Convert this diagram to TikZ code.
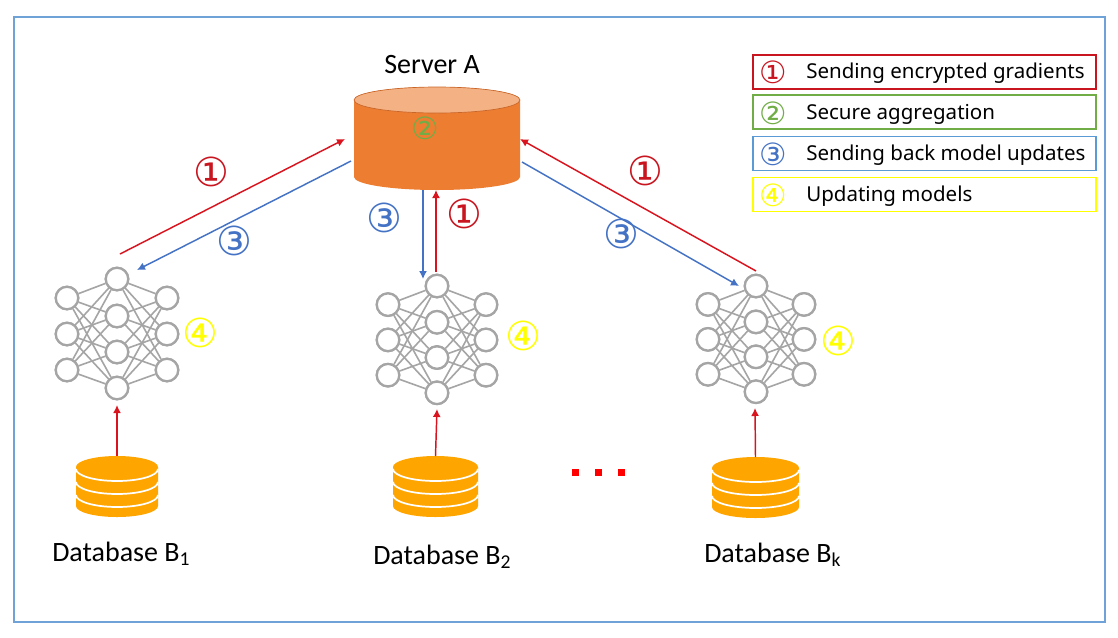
\documentclass[tikz,border=0pt]{standalone}
\usepackage{fontspec}
\setmainfont{Carlito}
\newfontfamily\legfont{Noto Sans}
\newfontfamily\circfont{DejaVu Sans}
\usetikzlibrary{arrows.meta}
\definecolor{fblue}{HTML}{6FA3D8}
\definecolor{cred}{HTML}{C8151F}
\definecolor{cgreen}{HTML}{70AD47}
\definecolor{cblue}{HTML}{4472C4}
\definecolor{lblue}{HTML}{5B9BD5}
\definecolor{cyell}{HTML}{FFFF00}
\definecolor{srvbody}{HTML}{ED7D31}
\definecolor{srvtop}{HTML}{F4B183}
\definecolor{srvedge}{HTML}{C8662A}
\definecolor{dbfill}{HTML}{FFA500}
\definecolor{netgray}{HTML}{A5A5A5}
\definecolor{arrred}{HTML}{D9141F}
\tikzset{
  x=0.75pt,y=-0.75pt,
  neuron/.style={circle,draw=netgray,line width=1.7pt,fill=white,minimum size=22.5*0.75pt,inner sep=0pt},
  syn/.style={draw=netgray,line width=1.2pt},
  redarrow/.style={draw=arrred,line width=1.1pt,-{Latex[length=6pt,width=6pt]}},
  bluearrow/.style={draw=cblue,line width=1.1pt,-{Latex[length=6pt,width=6pt]}},
  feedarrow/.style={draw=arrred,line width=1.6pt,-{Latex[length=6pt,width=6pt]}},
  legbox/.style={draw,line width=1pt,minimum width=343*0.75pt,minimum height=34*0.75pt,inner sep=0pt},
  legtext/.style={anchor=west,font=\legfont\fontsize{15.4pt}{17pt}\selectfont,text=black,inner sep=0pt},
  circnum/.style={font=\circfont\fontsize{30pt}{32pt}\selectfont,inner sep=0pt},
  legnum/.style={font=\circfont\fontsize{23pt}{25pt}\selectfont,inner sep=0pt},
  dblabel/.style={anchor=west,font=\fontsize{21pt}{23pt}\selectfont,inner sep=0pt},
}
% #1 name, #2 x of middle column, #3 y of top neuron, #4 half width, #5 vertical scale
\newcommand{\neuralnet}[5]{%
  \foreach \i/\dy in {1/0,2/37,3/73,4/109}
    \node[neuron] (#1m\i) at (#2,{#3+#5*\dy}) {};
  \foreach \i/\dy in {1/19,2/55,3/91}{
    \node[neuron] (#1l\i) at (#2-#4,{#3+#5*\dy}) {};
    \node[neuron] (#1r\i) at (#2+#4,{#3+#5*\dy}) {};
  }
  \foreach \a in {1,2,3}\foreach \b in {1,2,3,4}{
    \draw[syn] (#1l\a) -- (#1m\b);
    \draw[syn] (#1r\a) -- (#1m\b);
  }
}
% #1 name, #2 centre x, #3 y of top-ellipse centre, #4 half width
\newcommand{\dbstack}[4]{%
  \fill[dbfill] ({#2-#4},#3) -- ({#2-#4},#3+39) arc[x radius=#4,y radius=11,start angle=180,end angle=0]
     -- ({#2+#4},#3) arc[x radius=#4,y radius=11,start angle=0,end angle=-180] -- cycle;
  \foreach \d in {2,15,28}
    \draw[white,line width=1.3pt] ({#2-#4},#3+\d) arc[x radius=#4,y radius=12,start angle=180,end angle=0];
  \coordinate (#1) at (#2,#3-11);
}
\begin{document}
\begin{tikzpicture}
\useasboundingbox (0,0) rectangle (1118,637);
\fill[white] (0,0) rectangle (1118,637);
\draw[fblue,line width=1pt] (14,17) rectangle (1105,622);

% server
\fill[srvbody] (354,100) -- (354,177) arc[x radius=83,y radius=13,start angle=180,end angle=0]
  -- (520,100) arc[x radius=83,y radius=13,start angle=0,end angle=-180] -- cycle;
\draw[srvedge,line width=.5pt,fill=srvtop] (437,100) ellipse[x radius=83,y radius=13];
\node[font=\fontsize{21pt}{23pt}\selectfont,inner sep=0pt] (srvlabel) at (432,65) {Server A};
\node[font=\circfont\fontsize{23pt}{25pt}\selectfont,text=cgreen,inner sep=0pt] (srvnum) at (425,128) {②};

% server anchors
\coordinate (sL1) at (345,139);
\coordinate (sL2) at (351,161);
\coordinate (sM1) at (423,190);
\coordinate (sM2) at (436,190);
\coordinate (sR1) at (520,139);
\coordinate (sR2) at (522,162);

% networks
\neuralnet{a}{117}{279}{50}{1}
\neuralnet{b}{437}{286}{49}{.98}
\neuralnet{c}{756}{286}{48}{.97}
\foreach \n in {a,b,c}{
  \foreach \i in {1,2,3,4} \node[neuron] at (\n m\i) {};
  \foreach \i in {1,2,3} {\node[neuron] at (\n l\i) {}; \node[neuron] at (\n r\i) {};}
}

% databases
\dbstack{da}{117}{467}{41}
\dbstack{db}{435.5}{467}{42.5}
\dbstack{dc}{755.5}{468}{43.5}

% arrows network/server
\coordinate (aR) at (120,254);
\coordinate (aB) at (137,270);
\coordinate (bB) at (423,279);
\coordinate (bR) at (436,272);
\coordinate (cR) at (756,271);
\coordinate (cB) at (739,286);
\draw[redarrow] (aR) -- (sL1);
\draw[bluearrow] (sL2) -- (aB);
\draw[bluearrow] (sM1) -- (bB);
\draw[redarrow] (bR) -- (sM2);
\draw[redarrow] (cR) -- (sR1);
\draw[bluearrow] (sR2) -- (cB);

% database arrows
\coordinate (aI) at (117,405);
\coordinate (bI) at (437,409);
\coordinate (cI) at (755,408);
\draw[feedarrow] (da) -- (aI);
\draw[redarrow] (db) -- (bI);
\draw[redarrow] (dc) -- (cI);

% labels on arrows
\node[circnum,text=cred] (n1a) at (211,172) {①};
\node[circnum,text=cblue] (n3a) at (234,241) {③};
\node[circnum,text=cblue] (n3b) at (384,218) {③};
\node[circnum,text=cred] (n1b) at (464,214) {①};
\node[circnum,text=cred] (n1c) at (645,171) {①};
\node[circnum,text=cblue] (n3c) at (621,234) {③};
\node[circnum,text=cyell] (n4a) at (200,333) {④};
\node[circnum,text=cyell] (n4b) at (523,336) {④};
\node[circnum,text=cyell] (n4c) at (838,341) {④};

% database labels
\node[dblabel] (la) at (52,554) {Database B\textsubscript{1}};
\node[dblabel] (lb) at (373,557) {Database B\textsubscript{2}};
\node[dblabel] (lc) at (704,555) {Database B\textsubscript{k}};

% dots
\foreach \x in {575,598,621}
  \fill[red] (\x-3.5,468.5) rectangle (\x+3.5,475.5);

% legend
\node[legbox,draw=cred] (b1) at (924.5,72) {};
\node[legbox,draw=cgreen] (b2) at (924.5,112) {};
\node[legbox,draw=lblue] (b3) at (924.5,153.5) {};
\node[legbox,draw=cyell] (b4) at (924.5,194.5) {};
\node[legnum,text=cred] (k1) at (773,72) {①};
\node[legnum,text=cgreen] (k2) at (773,113) {②};
\node[legnum,text=cblue] (k3) at (773,154) {③};
\node[legnum,text=cyell] (k4) at (773,195) {④};
\node[legtext] (t1) at (806,73) {Sending encrypted gradients};
\node[legtext] (t2) at (806,114) {Secure aggregation};
\node[legtext] (t3) at (806,155) {Sending back model updates};
\node[legtext] (t4) at (806,196) {Updating models};
\end{tikzpicture}
\end{document}
